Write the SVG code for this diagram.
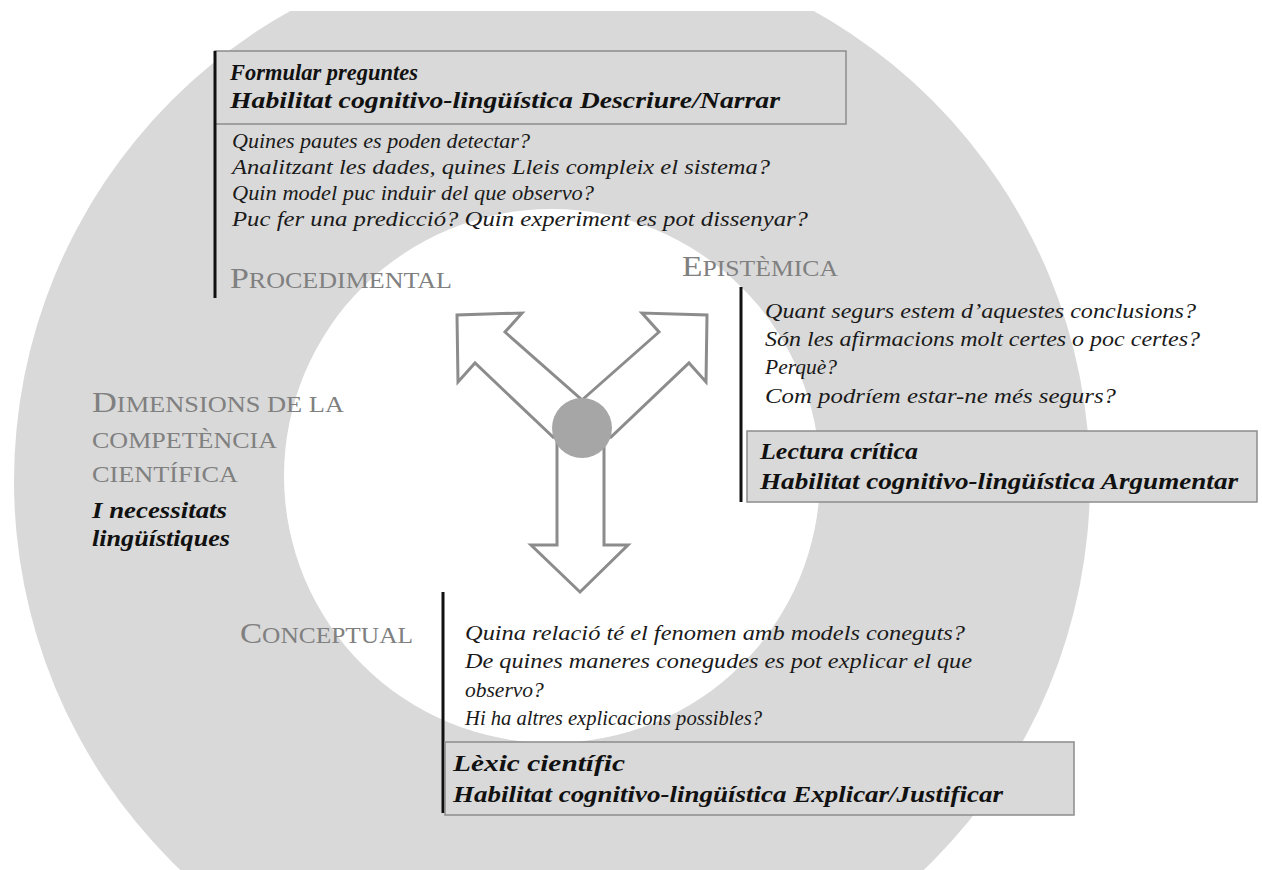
<svg xmlns="http://www.w3.org/2000/svg" width="1262" height="870" viewBox="0 0 1262 870">
<style>
.q{font-family:"Liberation Serif",serif;font-style:italic;font-size:21.5px;fill:#1a1a1a}
.b{font-family:"Liberation Serif",serif;font-style:italic;font-weight:bold;font-size:22.5px;fill:#111}
.t{font-family:"Liberation Serif",serif;fill:#808080;font-size:23px}
.big{font-size:30px}
.box{fill:#d9d9d9;stroke:#8c8c8c;stroke-width:1.5}
.bar{stroke:#111;stroke-width:3}
.arr{fill:#fff;stroke:#8c8c8c;stroke-width:3;stroke-linejoin:miter}
</style>
<defs>
<clipPath id="clip"><rect x="0" y="11" width="1262" height="859"/></clipPath>
</defs>
<rect width="1262" height="870" fill="#fff"/>
<g id="ring" clip-path="url(#clip)">
<circle cx="552" cy="481" r="538" fill="#d9d9d9"/>
<ellipse cx="552" cy="476" rx="268" ry="267" fill="#fff"/>
</g>
<g id="connectors">
<polygon class="arr" points="553,437 475,363 458,382 457,315 522,313 505,332 582,400"/>
<polygon class="arr" points="582,400 659,332 642,313 707,315 706,382 689,363 611,437"/>
<polygon class="arr" points="557,440 557,545 531,545 580,592 628,545 604,545 604,440"/>
<circle cx="582" cy="428" r="30" fill="#a6a6a6"/>
</g>
<g id="procedimental">
<rect class="box" x="215" y="51" width="631" height="73"/>
<line class="bar" x1="215" y1="51" x2="215" y2="298"/>
<text class="b" x="230" y="80" textLength="188" lengthAdjust="spacingAndGlyphs">Formular preguntes</text>
<text class="b" x="230" y="108" textLength="550" lengthAdjust="spacingAndGlyphs">Habilitat cognitivo-lingüística Descriure/Narrar</text>
<text class="q" x="232" y="148" textLength="298" lengthAdjust="spacingAndGlyphs">Quines pautes es poden detectar?</text>
<text class="q" x="232" y="174" textLength="538" lengthAdjust="spacingAndGlyphs">Analitzant les dades, quines Lleis compleix el sistema?</text>
<text class="q" x="232" y="200" textLength="362" lengthAdjust="spacingAndGlyphs">Quin model puc induir del que observo?</text>
<text class="q" x="232" y="226" textLength="576" lengthAdjust="spacingAndGlyphs">Puc fer una predicció? Quin experiment es pot dissenyar?</text>
<text class="t" x="230" y="288" textLength="222" lengthAdjust="spacingAndGlyphs"><tspan class="big">P</tspan>ROCEDIMENTAL</text>
</g>
<g id="epistemica">
<text class="t" x="682" y="276" textLength="156" lengthAdjust="spacingAndGlyphs"><tspan class="big">E</tspan>PISTÈMICA</text>
<line class="bar" x1="741" y1="287" x2="741" y2="502"/>
<text class="q" x="765" y="318" textLength="431" lengthAdjust="spacingAndGlyphs">Quant segurs estem d’aquestes conclusions?</text>
<text class="q" x="765" y="346" textLength="435" lengthAdjust="spacingAndGlyphs">Són les afirmacions molt certes o poc certes?</text>
<text class="q" x="765" y="374">Perquè?</text>
<text class="q" x="765" y="403" textLength="351" lengthAdjust="spacingAndGlyphs">Com podríem estar-ne més segurs?</text>
<rect class="box" x="747" y="431" width="510" height="71"/>
<text class="b" x="760" y="459" textLength="158" lengthAdjust="spacingAndGlyphs">Lectura crítica</text>
<text class="b" x="760" y="489" textLength="478" lengthAdjust="spacingAndGlyphs">Habilitat cognitivo-lingüística Argumentar</text>
</g>
<g id="dimensions">
<text class="t" x="92" y="412" textLength="252" lengthAdjust="spacingAndGlyphs"><tspan class="big">D</tspan>IMENSIONS DE LA</text>
<text class="t" x="92" y="448" textLength="185" lengthAdjust="spacingAndGlyphs">COMPETÈNCIA</text>
<text class="t" x="92" y="482" textLength="146" lengthAdjust="spacingAndGlyphs">CIENTÍFICA</text>
<text class="b" x="92" y="518" textLength="135" lengthAdjust="spacingAndGlyphs">I necessitats</text>
<text class="b" x="92" y="546" textLength="138" lengthAdjust="spacingAndGlyphs">lingüístiques</text>
</g>
<g id="conceptual">
<text class="t" x="240" y="643" textLength="173" lengthAdjust="spacingAndGlyphs"><tspan class="big">C</tspan>ONCEPTUAL</text>
<line class="bar" x1="443" y1="592" x2="443" y2="813"/>
<text class="q" x="465" y="640" textLength="500" lengthAdjust="spacingAndGlyphs">Quina relació té el fenomen amb models coneguts?</text>
<text class="q" x="465" y="668" textLength="507" lengthAdjust="spacingAndGlyphs">De quines maneres conegudes es pot explicar el que</text>
<text class="q" x="465" y="697">observo?</text>
<text class="q" x="465" y="725" textLength="297" lengthAdjust="spacingAndGlyphs">Hi ha altres explicacions possibles?</text>
<rect class="box" x="445" y="742" width="629" height="73"/>
<text class="b" x="453" y="771" textLength="172" lengthAdjust="spacingAndGlyphs">Lèxic científic</text>
<text class="b" x="453" y="802" textLength="550" lengthAdjust="spacingAndGlyphs">Habilitat cognitivo-lingüística Explicar/Justificar</text>
</g>
</svg>
